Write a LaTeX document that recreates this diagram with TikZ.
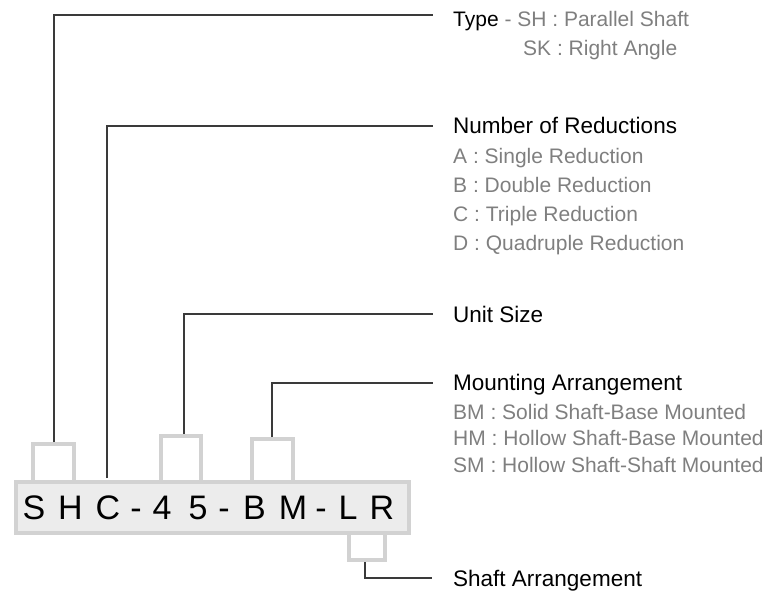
\documentclass[tikz,border=0pt]{standalone}
\usepackage{fontspec}
\setmainfont{Liberation Sans}
\definecolor{boxgray}{HTML}{D2D2D2}
\definecolor{boxfill}{HTML}{ECECEC}
\definecolor{linecol}{HTML}{3A3A3A}
\definecolor{descgray}{HTML}{7F7F7F}
\begin{document}
\begin{tikzpicture}[x=1pt,y=-1pt,
  conn/.style={draw=linecol, line width=1.1pt},
  lbox/.style={draw=boxgray, line width=4pt},
  title/.style={anchor=base west, font=\fontsize{22.5}{26}\selectfont, text=black, inner sep=0pt},
  desc/.style={anchor=base west, font=\fontsize{21}{25}\selectfont, text=descgray, inner sep=0pt},
  code/.style={anchor=base, font=\fontsize{34}{36}\selectfont, text=black, inner sep=0pt}]
\useasboundingbox (0,0) rectangle (771,594);

% main code box
\node[draw=boxgray, line width=4pt, fill=boxfill, minimum width=393pt, minimum height=51pt,
      inner sep=0pt, anchor=north west] (main) at (14,480) {};

% small bracket boxes
\draw[lbox] (33,480) -- (33,444) -- (74,444) -- (74,480);
\draw[lbox] (161,480) -- (161,436) -- (201,436) -- (201,480);
\draw[lbox] (252,480) -- (252,439) -- (293,439) -- (293,480);
\draw[lbox] (349,531) -- (349,560) -- (385,560) -- (385,531);

% code letters
\foreach \c/\x [count=\i] in {S/34, H/70.5, C/108, -/136, 4/162, 5/198, -/224, B/254.5, M/293, -/321, L/348, R/382}
  \node[code] (ch\i) at (\x,519) {\c};

% labels
\node[desc] (type) at (453,27) {\textcolor{black}{Type} - SH : Parallel Shaft};
\node[desc] (sk) at (523,56) {SK : Right Angle};

\node[title] (nred) at (453,133) {Number of Reductions};
\node[desc] (ra) at (453,163) {A : Single Reduction};
\node[desc] (rb) at (453,192) {B : Double Reduction};
\node[desc] (rc) at (453,221) {C : Triple Reduction};
\node[desc] (rd) at (453,250) {D : Quadruple Reduction};

\node[title] (usize) at (453,322) {Unit Size};

\node[title] (mount) at (453,390) {Mounting Arrangement};
\node[desc] (mbm) at (453,419) {BM : Solid Shaft-Base Mounted};
\node[desc] (mhm) at (453,445) {HM : Hollow Shaft-Base Mounted};
\node[desc] (msm) at (453,472) {SM : Hollow Shaft-Shaft Mounted};

\node[title] (shaft) at (453,586) {Shaft Arrangement};

% connector endpoints
\coordinate (s1) at (54,442);   \coordinate (e1) at (433,15);
\coordinate (s2) at (107,478);  \coordinate (e2) at (433,126);
\coordinate (s3) at (184,434);  \coordinate (e3) at (433,314);
\coordinate (s4) at (272,437);  \coordinate (e4) at (433,383);
\coordinate (s5) at (365,562);  \coordinate (e5) at (432,578);

\draw[conn] (s1) |- (e1);
\draw[conn] (s2) |- (e2);
\draw[conn] (s3) |- (e3);
\draw[conn] (s4) |- (e4);
\draw[conn] (s5) |- (e5);
\end{tikzpicture}
\end{document}
